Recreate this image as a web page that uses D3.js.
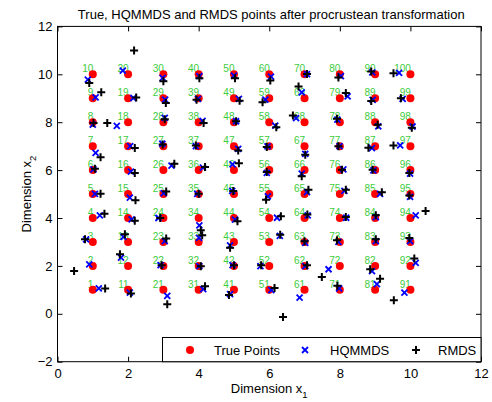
<!DOCTYPE html>
<html><head><meta charset="utf-8">
<script src="https://cdn.jsdelivr.net/npm/d3@7"></script>
<style>
body{margin:0;background:#fff;}
svg text{font-family:"Liberation Sans",Arial,Helvetica,sans-serif;}
</style></head>
<body><svg id="c" width="492" height="402"></svg>
<script>
// Point ids (1..100) and true grid positions
const ids = d3.range(1, 101);
const trueX = [1,1,1,1,1,1,1,1,1,1, 2,2,2,2,2,2,2,2,2,2, 3,3,3,3,3,3,3,3,3,3, 4,4,4,4,4,4,4,4,4,4, 5,5,5,5,5,5,5,5,5,5,
               6,6,6,6,6,6,6,6,6,6, 7,7,7,7,7,7,7,7,7,7, 8,8,8,8,8,8,8,8,8,8, 9,9,9,9,9,9,9,9,9,9, 10,10,10,10,10,10,10,10,10,10];
const trueY = [1,2,3,4,5,6,7,8,9,10, 1,2,3,4,5,6,7,8,9,10, 1,2,3,4,5,6,7,8,9,10, 1,2,3,4,5,6,7,8,9,10, 1,2,3,4,5,6,7,8,9,10,
               1,2,3,4,5,6,7,8,9,10, 1,2,3,4,5,6,7,8,9,10, 1,2,3,4,5,6,7,8,9,10, 1,2,3,4,5,6,7,8,9,10, 1,2,3,4,5,6,7,8,9,10];
// HQMMDS estimates
const hqX = [1.17,0.90,0.81,1.20,1.06,1.02,1.08,1.00,1.08,0.86,
             2.05,1.80,1.87,2.10,2.05,2.08,2.06,1.68,2.15,1.85,
             3.11,2.92,3.04,2.86,3.01,3.23,2.97,3.04,3.05,2.98,
             4.13,4.02,4.01,4.02,3.96,4.12,3.92,4.11,3.98,4.02,
             4.89,4.96,4.89,5.03,4.95,4.96,5.12,5.06,5.14,5.00,
             6.06,5.75,6.30,6.22,5.96,5.93,5.95,6.17,5.89,6.05,
             6.86,7.02,7.02,7.09,7.07,6.92,7.02,6.76,6.92,7.07,
             7.98,7.68,7.96,8.18,8.13,8.10,7.99,7.93,8.22,8.03,
             9.05,8.91,9.02,9.02,9.14,8.95,8.91,9.09,8.93,8.92,
             9.83,10.15,9.99,10.15,9.99,9.99,9.71,10.06,9.78,9.68];
const hqY = [1.06,2.06,3.11,4.11,5.01,6.03,6.72,7.90,9.04,9.78,
             0.88,2.35,3.21,3.94,4.85,5.94,7.00,7.85,9.01,10.15,
             0.75,2.03,3.03,4.00,5.04,6.19,7.10,8.18,8.94,9.85,
             1.03,1.99,3.17,3.69,5.01,6.10,7.00,8.06,8.97,9.92,
             0.82,2.03,2.86,3.93,5.13,6.24,6.89,8.04,8.97,9.94,
             0.99,1.99,3.25,4.01,4.90,5.88,6.99,7.86,8.94,9.90,
             0.68,1.99,2.96,4.11,5.08,5.85,6.68,8.17,9.25,10.01,
             1.06,1.86,3.00,4.01,5.13,6.03,7.00,8.11,9.08,9.92,
             1.24,1.78,3.03,4.04,5.01,5.99,6.92,7.83,8.93,10.08,
             0.88,2.13,3.03,4.11,4.88,5.85,7.03,7.82,8.97,10.06];
// RMDS estimates
const rmX = [1.35,0.47,0.78,1.33,1.22,1.06,1.22,1.02,1.24,0.90,
             2.08,1.77,1.91,2.19,2.21,2.19,2.19,1.41,2.23,2.17,
             3.11,2.95,3.08,2.91,3.08,3.31,2.98,3.04,3.07,3.00,
             4.18,4.06,4.10,4.06,4.00,4.18,3.92,4.14,3.94,4.02,
             4.86,5.00,4.89,5.10,4.98,5.14,5.12,5.06,5.16,5.03,
             6.15,5.77,6.31,6.33,5.91,5.93,5.93,6.20,5.81,6.03,
             6.39,7.07,7.00,7.08,7.11,6.92,7.02,6.67,6.83,7.07,
             7.93,7.49,7.92,8.17,8.17,8.06,7.96,7.92,8.17,7.96,
             9.14,8.86,9.02,9.02,9.19,8.93,8.81,9.07,8.89,8.89,
             9.53,10.11,9.97,10.43,9.97,9.97,9.52,10.04,9.73,9.52];
const rmY = [1.06,1.79,3.11,4.18,5.01,6.06,6.54,7.97,9.25,9.64,
             0.85,2.49,3.32,3.88,4.74,5.88,6.92,7.97,9.03,10.99,
             0.40,2.03,3.14,4.00,5.11,6.26,7.07,8.12,8.80,9.71,
             1.15,1.99,3.28,3.49,5.01,6.13,7.03,7.97,8.94,9.83,
             0.78,2.03,2.76,3.86,5.13,6.29,6.82,8.04,8.90,9.83,
             1.08,2.03,3.30,4.07,4.76,5.92,6.96,7.79,8.83,9.74,
             -0.13,2.03,3.03,4.15,5.18,5.74,6.64,8.28,9.49,10.01,
             1.17,1.54,3.07,4.04,5.18,6.01,7.00,8.14,9.22,9.87,
             1.46,1.86,3.11,4.11,5.08,6.01,6.93,7.89,8.89,10.12,
             0.57,2.31,3.17,4.29,4.94,5.88,7.03,7.77,9.00,10.04];
const xTicks = [0,2,4,6,8,10,12];
const yTicks = [-2,0,2,4,6,8,10,12];
const seriesNames = ["True Points","HQMMDS","RMDS"];
const titleText = "True, HQMMDS and RMDS points after procrustean transformation";

const svg = d3.select("#c");
const L = 57.5, R = 481, T = 26.4, B = 361.7;
const x = d3.scaleLinear().domain([0,12]).range([L,R]);
const y = d3.scaleLinear().domain([-2,12]).range([B,T]);
const FS = 13;

// axes (ticks inward, all four sides)
function styleAxis(g){ g.select(".domain").remove(); g.selectAll("text").attr("font-size",FS).attr("fill","#000").attr("font-family","Liberation Sans, Arial, sans-serif"); g.selectAll("line").attr("stroke","#000"); }
svg.append("g").attr("transform",`translate(0,${B})`)
  .call(d3.axisBottom(x).tickValues(xTicks).tickSizeInner(-5).tickSizeOuter(0).tickPadding(7)).call(styleAxis);
svg.append("g").attr("transform",`translate(0,${T})`)
  .call(d3.axisTop(x).tickValues(xTicks).tickSizeInner(-5).tickSizeOuter(0).tickFormat("")).call(styleAxis);
svg.append("g").attr("transform",`translate(${L},0)`)
  .call(d3.axisLeft(y).tickValues(yTicks).tickSizeInner(-5).tickSizeOuter(0).tickPadding(5)).call(styleAxis);
svg.append("g").attr("transform",`translate(${R},0)`)
  .call(d3.axisRight(y).tickValues(yTicks).tickSizeInner(-5).tickSizeOuter(0).tickFormat("")).call(styleAxis);
svg.append("rect").attr("x",L).attr("y",T).attr("width",R-L).attr("height",B-T)
  .attr("fill","none").attr("stroke","#000").attr("stroke-width",1);

const data = ids.map((id,i)=>({id, tx:trueX[i], ty:trueY[i], hx:hqX[i], hy:hqY[i], rx:rmX[i], ry:rmY[i]}));
const plot = svg.append("g");
// labels
plot.selectAll("text.lab").data(data).join("text").attr("class","lab")
  .attr("x",d=>x(d.tx)+0.5).attr("y",d=>y(d.ty)-2)
  .attr("text-anchor","end").attr("font-size",10).attr("fill","#3ccc3c").text(d=>d.id);
// true points
plot.selectAll("circle.tp").data(data).join("circle").attr("class","tp")
  .attr("cx",d=>x(d.tx)).attr("cy",d=>y(d.ty)).attr("r",4).attr("fill","#ff0000");
// HQMMDS crosses
const xs = 3;
plot.selectAll("path.hq").data(data).join("path").attr("class","hq")
  .attr("d",d=>{const cx=x(d.hx), cy=y(d.hy); return `M${cx-xs},${cy-xs}L${cx+xs},${cy+xs}M${cx-xs},${cy+xs}L${cx+xs},${cy-xs}`;})
  .attr("stroke","#0000ff").attr("stroke-width",1.8).attr("fill","none");
// RMDS pluses
const ps = 4;
plot.selectAll("path.rm").data(data).join("path").attr("class","rm")
  .attr("d",d=>{const cx=x(d.rx), cy=y(d.ry); return `M${cx-ps},${cy}L${cx+ps},${cy}M${cx},${cy-ps}L${cx},${cy+ps}`;})
  .attr("stroke","#000").attr("stroke-width",2).attr("fill","none");

// legend
const lg = svg.append("g");
lg.append("rect").attr("x",162.5).attr("y",337.5).attr("width",R-162.5).attr("height",B-337.5)
  .attr("fill","#fff").attr("stroke","#000").attr("stroke-width",1);
const ly = 350;
lg.append("circle").attr("cx",190).attr("cy",ly).attr("r",4).attr("fill","#ff0000");
lg.append("path").attr("d",`M${305-xs},${ly-xs}L${305+xs},${ly+xs}M${305-xs},${ly+xs}L${305+xs},${ly-xs}`)
  .attr("stroke","#0000ff").attr("stroke-width",1.8);
lg.append("path").attr("d",`M${416-ps},${ly}L${416+ps},${ly}M${416},${ly-ps}L${416},${ly+ps}`)
  .attr("stroke","#000").attr("stroke-width",2);
const lx = [214, 330, 438];
seriesNames.forEach((n,i)=>lg.append("text").attr("x",lx[i]).attr("y",ly+4.6).attr("font-size",FS).text(n));

// title
svg.append("text").attr("x",(L+R)/2+2).attr("y",19).attr("text-anchor","middle").attr("font-size",FS).text(titleText);
// x label
const xl = svg.append("text").attr("x",(L+R)/2).attr("y",393).attr("text-anchor","middle").attr("font-size",FS);
xl.append("tspan").text("Dimension x");
xl.append("tspan").attr("font-size",9.5).attr("dy",5).text("1");
// y label
const yl = svg.append("text").attr("transform",`translate(31,${(T+B)/2}) rotate(-90)`).attr("text-anchor","middle").attr("font-size",FS);
yl.append("tspan").text("Dimension x");
yl.append("tspan").attr("font-size",9.5).attr("dy",5).text("2");
</script></body></html>
